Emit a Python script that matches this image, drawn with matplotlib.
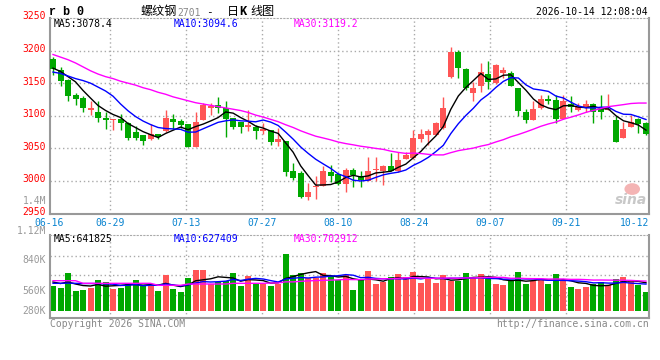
import numpy as np
import pandas as pd
import matplotlib
matplotlib.use("Agg")
import matplotlib.pyplot as plt
from matplotlib.patches import Ellipse
from matplotlib.transforms import offset_copy

W, H = 660, 360

# daily candles for rb2701, oldest first
opens = [3187, 3170, 3155, 3132, 3128, 3109.5, 3106, 3097, 3093, 3095,
         3089, 3075, 3071, 3064.5, 3072, 3077, 3095, 3092, 3087.5, 3052,
         3094, 3112, 3116, 3112, 3096, 3091, 3082.5, 3082.5, 3076, 3078,
         3059, 3061.5, 3014.5, 3012, 2975, 2990, 2992, 3013, 3011, 2995.5,
         3017, 3008, 3000.6, 3016, 3014.5, 3023, 3015.5, 3034, 3035, 3064.5,
         3070.7, 3070.7, 3081, 3160, 3197.5, 3172, 3135.6, 3145, 3164, 3151,
         3166, 3166, 3143, 3106, 3093.7, 3111.6, 3126, 3124.4, 3095, 3118,
         3109, 3113, 3118, 3110.6, 3109.5, 3093.7, 3066.5, 3082.5, 3094.7, 3089.6]
highs = [3190, 3175, 3156, 3135, 3130, 3123, 3122, 3106, 3095, 3103,
         3090, 3084.5, 3071, 3087.5, 3072, 3109, 3103, 3095, 3088, 3105,
         3120, 3120, 3128.5, 3123, 3097, 3091, 3109, 3086, 3089, 3078,
         3081, 3062, 3028, 3014.5, 2996.6, 3007, 3023, 3024.7, 3012, 3019.6,
         3020.5, 3014.5, 3037.4, 3037, 3024.7, 3042.5, 3045, 3045, 3078.3, 3079.4,
         3079.4, 3091, 3128.5, 3205, 3201, 3173, 3151.5, 3181.6, 3184.6, 3179.6,
         3174.5, 3168, 3143, 3110.6, 3123, 3132, 3132, 3132, 3132, 3130.5,
         3120, 3124.4, 3120, 3132, 3133, 3100, 3091, 3101, 3096, 3091]
lows = [3163, 3146, 3122, 3116, 3105, 3101, 3091, 3079, 3078, 3078,
        3063, 3063, 3055, 3063, 3064, 3075.6, 3079, 3081, 3052, 3052,
        3094, 3101, 3104, 3067, 3080, 3074, 3077, 3064.5, 3072, 3055,
        3054, 3007, 3001.6, 2973.6, 2971, 2972, 2992, 2999, 2994, 2983.7,
        2990, 2990, 3000, 3000.6, 2993, 3014.5, 3013, 3034, 3033.4, 3059,
        3055, 3070, 3080, 3157.6, 3158.6, 3139.7, 3123, 3137, 3140.8, 3149,
        3158.6, 3146, 3100, 3088.6, 3093, 3111, 3118, 3088.6, 3095, 3106.4,
        3107.5, 3106.4, 3089.6, 3095, 3109.5, 3059, 3066, 3082, 3073, 3071]
closes = [3171, 3154, 3131, 3126, 3112, 3112.6, 3097, 3093, 3095, 3089,
          3066, 3066, 3062, 3072, 3067, 3097, 3091, 3086, 3052, 3091,
          3116, 3115, 3112, 3095, 3082, 3082, 3086, 3076, 3079.5, 3059,
          3064, 3013, 3004, 2975, 2983.7, 2992, 3014.5, 3007, 2995.5, 3017,
          3009, 3001.6, 3015.5, 3018, 3023, 3015.5, 3032.3, 3040, 3066.5, 3071.8,
          3077.3, 3089.5, 3112.6, 3198.5, 3174, 3142, 3143, 3167, 3152.5, 3178,
          3170.4, 3146, 3108, 3093.7, 3110.6, 3125.4, 3122, 3095, 3123.4, 3113,
          3113, 3118, 3105.5, 3105.5, 3110.5, 3060.4, 3079.4, 3091, 3087, 3072]
volumes = [590, 536, 885, 466, 489, 536, 722, 676, 513, 536,
           629, 722, 606, 583, 466, 839, 513, 443, 769, 955,
           955, 629, 676, 699, 885, 583, 816, 629, 629, 583,
           629, 1328, 839, 885, 769, 769, 885, 816, 722, 839,
           489, 746, 932, 629, 676, 792, 862, 792, 909, 652,
           746, 652, 839, 699, 699, 885, 792, 862, 746, 629,
           606, 699, 909, 629, 699, 746, 629, 862, 722, 559,
           513, 559, 629, 676, 606, 746, 792, 699, 606, 443]  # thousand lots

# moving-average values before enough history is on screen
ma5_head = [3173, 3168, 3160, 3152]
ma10_head = [3167, 3165, 3161, 3157, 3154, 3150, 3144, 3138, 3130]
ma30_head = [3194, 3190, 3186, 3181, 3175, 3169, 3164, 3160, 3157, 3153,
             3150, 3147, 3143, 3140, 3136, 3133, 3129, 3126, 3123, 3120,
             3118, 3116, 3114, 3112, 3110, 3108, 3105, 3101, 3098]
vma5_head = [676, 640, 676, 629]
vma10_head = [645, 645, 650, 645, 640, 640, 640, 630, 625]
vma30_head = [706, 706, 706, 706, 645, 645, 645, 645, 645, 645,
              645, 645, 645, 645, 599, 599, 599, 599, 629, 629,
              629, 629, 629, 629, 645, 645, 645, 645, 645]

date_labels = ["06-16", "06-29", "07-13", "07-27", "08-10",
               "08-24", "09-07", "09-21", "10-12"]
price_ticks = [3250, 3200, 3150, 3100, 3050, 3000, 2950]

RED = "#ff5555"
GREEN = "#00a800"
MA_COLORS = ["black", "#0000ff", "#ff00ff"]
GRID = "#aaaaaa"
FRAME = "#999999"
MONO = "DejaVu Sans Mono"


def moving(values, n, head):
    s = pd.Series(values, dtype=float).rolling(n).mean().values
    s[:n - 1] = head
    return s


def box(left, top, right, bottom):
    return [left / W, 1 - bottom / H, (right - left) / W, (bottom - top) / H]


def ftext(x, y, s, **kw):
    kw.setdefault("family", MONO)
    kw.setdefault("fontsize", 7)
    kw.setdefault("va", "center")
    fig.text(x / W, 1 - y / H, s, **kw)


o = np.array(opens)
c = np.array(closes)
v = np.array(volumes) * 1000.0
idx = np.arange(len(c))
up = c >= o
colors = np.where(up, RED, GREEN)

fig = plt.figure(figsize=(W / 100, H / 100), dpi=100)
fig.patch.set_facecolor("white")

# ---- price panel -----------------------------------------------------------
ax = fig.add_axes(box(50, 18, 649, 213.5))
ax.set_xlim(-0.4, 79.4)
ax.set_ylim(2950, 3250)
grid_x = [7.59 + 10.125 * k for k in range(7)]
label_x = [-0.55] + grid_x + [77.5]

for g in grid_x:
    ax.axvline(g, color=GRID, lw=1, ls=(0, (1, 2)), zorder=1)
for p in price_ticks[1:-1]:
    ax.axhline(p, color=GRID, lw=1, ls=(0, (1, 2)), zorder=1)

ax.vlines(idx, lows, highs, colors=colors, lw=1, zorder=2)
body_h = np.maximum(np.abs(c - o), 1.0)
ax.bar(idx, body_h, bottom=np.minimum(o, c), width=0.8, color=colors,
       linewidth=0, zorder=3)

for series, n, head, col in [(c, 5, ma5_head, MA_COLORS[0]),
                             (c, 10, ma10_head, MA_COLORS[1]),
                             (c, 30, ma30_head, MA_COLORS[2])]:
    ax.plot(idx, moving(series, n, head), color=col, lw=1, zorder=4)

ax.set_xticks([])
ax.set_yticks([])
ylab_tf = offset_copy(ax.get_yaxis_transform(), fig=fig, x=-4, y=1.5, units="dots")
for p in price_ticks:
    ax.text(0, p, str(p), transform=ylab_tf, ha="right", va="center",
            family=MONO, fontsize=7, color="#ff0000")
for side in ["left", "right", "bottom"]:
    ax.spines[side].set_color(FRAME)
    ax.spines[side].set_linewidth(1.5)
ax.spines["top"].set_color(GRID)
ax.spines["top"].set_linestyle((0, (1, 2)))

date_tf = offset_copy(ax.get_xaxis_transform(), fig=fig, x=0, y=-9, units="dots")
for pos, lab in zip(label_x, date_labels):
    ax.text(pos, 0, lab, transform=date_tf, ha="center", va="center",
            family=MONO, fontsize=7, color="#0a84d0")

# sina watermark
ax.text(0.997, 0.068, "sina", transform=ax.transAxes, ha="right", va="center",
        fontsize=10, style="italic", weight="bold", color="#c8c8c8", zorder=0)
ax.add_patch(Ellipse((0.972, 0.125), 0.026, 0.06, transform=ax.transAxes,
                     facecolor="#f4b4b4", edgecolor="none", zorder=0))

# ---- volume panel ----------------------------------------------------------
vax = fig.add_axes(box(50, 235, 649, 318))
vax.set_xlim(-0.4, 79.4)
vpx = 23300.0  # lots per pixel
vax.set_ylim(-7 * vpx, 76 * vpx)
for g in grid_x:
    vax.axvline(g, color=GRID, lw=1, ls=(0, (1, 2)), zorder=1)
for ypix in [256, 275, 295]:
    vax.axhline((311 - ypix) * vpx, color=GRID, lw=1, ls=(0, (1, 2)), zorder=1)
vax.bar(idx, v, width=0.8, color=colors, linewidth=0, zorder=2)
for n, head, col in [(5, vma5_head, MA_COLORS[0]), (10, vma10_head, MA_COLORS[1]),
                     (30, vma30_head, MA_COLORS[2])]:
    vax.plot(idx, moving(v, n, np.array(head) * 1000.0), color=col, lw=1, zorder=3)
vax.set_xticks([])
vax.set_yticks([])
for side in ["left", "right", "bottom"]:
    vax.spines[side].set_color(FRAME)
    vax.spines[side].set_linewidth(1.5)
vax.spines["top"].set_color(GRID)
vax.spines["top"].set_linestyle((0, (1, 2)))

# ---- texts -----------------------------------------------------------------
ftext(49, 12, "r b 0", family="Liberation Mono", weight="bold", fontsize=8.5)
ftext(141, 12, "螺纹钢", family=["Noto Sans CJK SC", "DejaVu Sans"], fontsize=8.7)
ftext(177, 12.5, "2701", color="#888888")
ftext(206, 12, "-", fontsize=8)
ftext(227, 12, "日", family=["Noto Sans CJK SC", "DejaVu Sans"], fontsize=8.7)
ftext(239, 12, "K", family="Liberation Mono", weight="bold", fontsize=8.7)
ftext(250, 12, "线图", family=["Noto Sans CJK SC", "DejaVu Sans"], fontsize=8.7)
ftext(648, 12, "2026-10-14 12:08:04", ha="right")

ftext(54, 24, "MA5:3078.4", color=MA_COLORS[0])
ftext(174, 24, "MA10:3094.6", color=MA_COLORS[1])
ftext(294, 24, "MA30:3119.2", color=MA_COLORS[2])

ftext(46, 201, "1.4M", ha="right", color="#999999")
ftext(46, 231, "1.12M", ha="right", color="#999999")
ftext(46, 260, "840K", ha="right", color="#999999")
ftext(46, 290.5, "560K", ha="right", color="#999999")
ftext(46, 311, "280K", ha="right", color="#999999")

ftext(54, 238.5, "MA5:641825", color=MA_COLORS[0])
ftext(174, 238.5, "MA10:627409", color=MA_COLORS[1])
ftext(294, 238.5, "MA30:702912", color=MA_COLORS[2])

ftext(50, 324, "Copyright 2026 SINA.COM", color="#888888")
ftext(649, 324, "http://finance.sina.com.cn", ha="right", color="#888888")

fig.savefig("out.png", dpi=100)
